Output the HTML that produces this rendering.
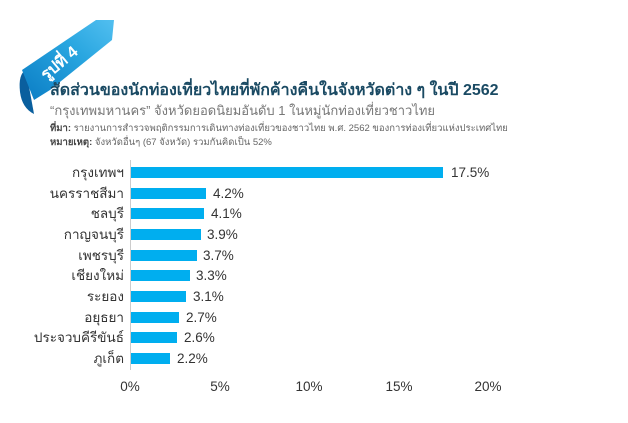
<!DOCTYPE html>
<html><head><meta charset="utf-8"><style>
body{margin:0;width:628px;height:423px;background:#fff;overflow:hidden;position:relative;font-family:"Liberation Sans","DejaVu Sans",sans-serif}
.t{position:absolute;white-space:nowrap}
.lab{position:absolute;right:504px;font-size:13.5px;color:#333;line-height:16px}
.bar{position:absolute;left:131px;height:11px;background:#00aeef}
.val{position:absolute;font-size:13.5px;color:#333;line-height:16px}
.tick{position:absolute;top:379px;font-size:13.5px;color:#333;width:40px;text-align:center}
</style></head><body>
<svg width="130" height="130" style="position:absolute;left:0;top:0">
<defs><linearGradient id="g" x1="0" y1="1" x2="1" y2="0"><stop offset="0" stop-color="#0a7cc4"/><stop offset="0.6" stop-color="#29a6e0"/><stop offset="1" stop-color="#52bff0"/></linearGradient></defs>
<path d="M20,92 Q18,74 26,70 L34,114 Q22,108 20,92Z" fill="#0a5f9e"/>
<polygon points="22,70 96,20 114,20 112,40 50,90 34,100" fill="url(#g)"/>
<text x="60" y="68" text-anchor="middle" transform="rotate(-40 60 64)" font-size="16" font-weight="bold" fill="#fff" font-family="Liberation Sans, DejaVu Sans, sans-serif">รูปที่ 4</text>
</svg>
<div class="t" style="left:50px;top:78px;font-size:16px;font-weight:bold;color:#1a4a63">สัดส่วนของนักท่องเที่ยวไทยที่พักค้างคืนในจังหวัดต่าง ๆ ในปี 2562</div>
<div class="t" style="left:50px;top:100px;font-size:13px;color:#777">“กรุงเทพมหานคร” จังหวัดยอดนิยมอันดับ 1 ในหมู่นักท่องเที่ยวชาวไทย</div>
<div class="t" style="left:50px;top:121px;font-size:9.5px;color:#666"><b style="color:#444">ที่มา:</b> รายงานการสำรวจพฤติกรรมการเดินทางท่องเที่ยวของชาวไทย พ.ศ. 2562 ของการท่องเที่ยวแห่งประเทศไทย</div>
<div class="t" style="left:50px;top:135px;font-size:9.5px;color:#666"><b style="color:#444">หมายเหตุ:</b> จังหวัดอื่นๆ (67 จังหวัด) รวมกันคิดเป็น 52%</div>
<div style="position:absolute;left:130px;top:160px;width:1px;height:210px;background:#ccc"></div>

<div class="lab" style="top:165px">กรุงเทพฯ</div><div class="bar" style="top:167px;width:312px"></div><div class="val" style="left:451px;top:165px">17.5%</div>
<div class="lab" style="top:186px">นครราชสีมา</div><div class="bar" style="top:188px;width:75px"></div><div class="val" style="left:213px;top:186px">4.2%</div>
<div class="lab" style="top:206px">ชลบุรี</div><div class="bar" style="top:208px;width:73px"></div><div class="val" style="left:211px;top:206px">4.1%</div>
<div class="lab" style="top:227px">กาญจนบุรี</div><div class="bar" style="top:229px;width:70px"></div><div class="val" style="left:207px;top:227px">3.9%</div>
<div class="lab" style="top:248px">เพชรบุรี</div><div class="bar" style="top:250px;width:66px"></div><div class="val" style="left:203px;top:248px">3.7%</div>
<div class="lab" style="top:268px">เชียงใหม่</div><div class="bar" style="top:270px;width:59px"></div><div class="val" style="left:196px;top:268px">3.3%</div>
<div class="lab" style="top:289px">ระยอง</div><div class="bar" style="top:291px;width:55px"></div><div class="val" style="left:193px;top:289px">3.1%</div>
<div class="lab" style="top:310px">อยุธยา</div><div class="bar" style="top:312px;width:48px"></div><div class="val" style="left:186px;top:310px">2.7%</div>
<div class="lab" style="top:330px">ประจวบคีรีขันธ์</div><div class="bar" style="top:332px;width:46px"></div><div class="val" style="left:184px;top:330px">2.6%</div>
<div class="lab" style="top:351px">ภูเก็ต</div><div class="bar" style="top:353px;width:39px"></div><div class="val" style="left:177px;top:351px">2.2%</div>

<div class="tick" style="left:110px">0%</div>
<div class="tick" style="left:200px">5%</div>
<div class="tick" style="left:289px">10%</div>
<div class="tick" style="left:379px">15%</div>
<div class="tick" style="left:468px">20%</div>
</body></html>
